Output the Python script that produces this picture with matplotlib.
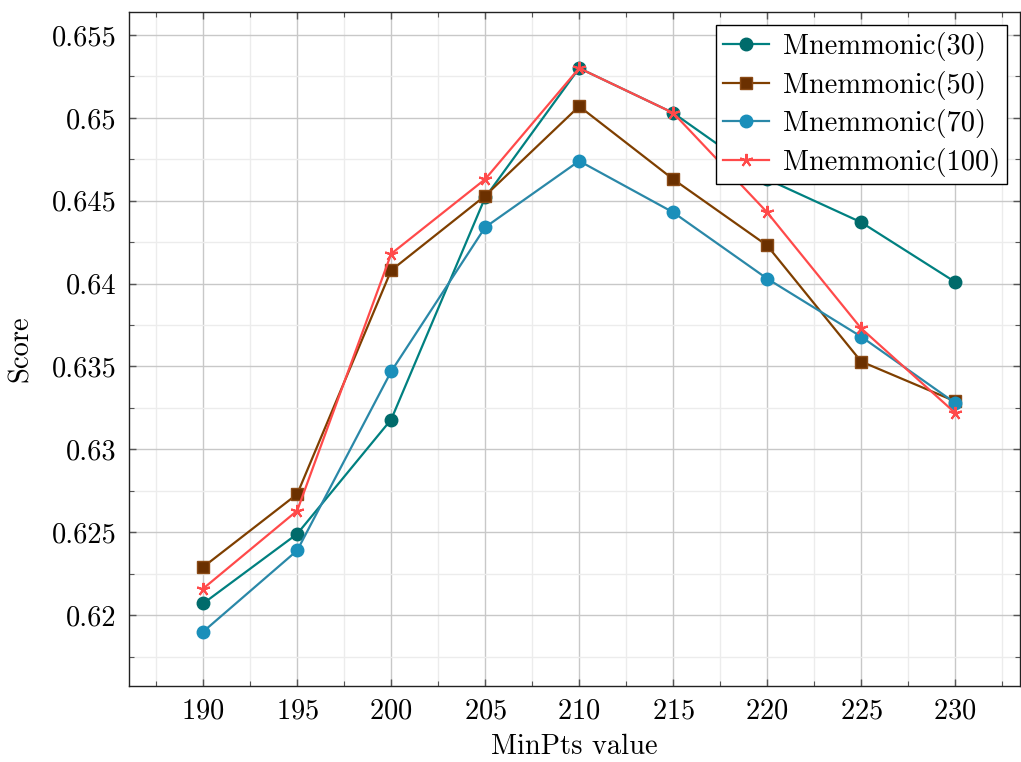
import numpy as np
import matplotlib
matplotlib.use("Agg")
import matplotlib.pyplot as plt
from matplotlib.ticker import MultipleLocator

# minpts values on the x axis
minpts = [190, 195, 200, 205, 210, 215, 220, 225, 230]

# scores
score_30 = [0.6207, 0.6249, 0.6318, 0.6452, 0.6530, 0.6503, 0.6463, 0.6437, 0.6401]
score_50 = [0.6229, 0.6273, 0.6408, 0.6453, 0.6507, 0.6463, 0.6423, 0.6353, 0.6329]
score_70 = [0.6190, 0.6239, 0.6347, 0.6434, 0.6474, 0.6443, 0.6403, 0.6368, 0.6328]
score_100 = [0.6216, 0.6263, 0.6418, 0.6463, 0.6530, 0.6503, 0.6443, 0.6373, 0.6322]

labels = ["Mnemmonic(30)", "Mnemmonic(50)", "Mnemmonic(70)", "Mnemmonic(100)"]

plt.rcParams['font.family'] = ['cmr10', 'DejaVu Serif']
plt.rcParams['axes.formatter.use_mathtext'] = True
plt.rcParams['mathtext.fontset'] = 'cm'

fig = plt.figure(figsize=(10.21, 7.62), dpi=100)
ax = fig.add_axes([0.1263, 0.0997, 0.8727, 0.8846])

ax.plot(minpts, score_30, color='#008080', lw=1.6, marker='o', ms=9,
        mfc='#006b6b', mec='#006b6b', label=labels[0], zorder=3)
ax.plot(minpts, score_50, color='#7f3f00', lw=1.6, marker='s', ms=9,
        mfc='#6b3000', mec='#8a4a15', label=labels[1], zorder=3)
ax.plot(minpts, score_70, color='#2a88a8', lw=1.6, marker='o', ms=9,
        mfc='#1a8fba', mec='#1a8fba', label=labels[2], zorder=3)
ax.plot(minpts, score_100, color='#ff4a4a', lw=1.6, marker=(5, 2, 0), ms=9.5,
        mec='#ff4a4a', mew=1.5, label=labels[3], zorder=3)

ax.set_xlim(186.05, 233.45)
ax.set_ylim(0.61572, 0.65639)
ax.set_xticks(minpts)
ax.set_yticks([0.62, 0.625, 0.63, 0.635, 0.64, 0.645, 0.65, 0.655])
ax.set_yticklabels(['0.62', '0.625', '0.63', '0.635', '0.64', '0.645', '0.65', '0.655'])
ax.xaxis.set_minor_locator(MultipleLocator(2.5))
ax.yaxis.set_minor_locator(MultipleLocator(0.0025))

ax.grid(which='major', color='#c8c8c8', lw=1.0)
ax.grid(which='minor', color='#ececec', lw=1.0)
ax.set_axisbelow(True)

ax.tick_params(which='both', direction='in', top=True, right=True,
               labelsize=20.5, color='#555555', pad=9)
ax.tick_params(which='major', length=5, width=1)
ax.tick_params(which='minor', length=3.5, width=0.8)
for s in ax.spines.values():
    s.set_color('#222222')
    s.set_linewidth(1.0)

ax.set_xlabel('MinPts value', fontsize=20.5, labelpad=6)
ax.set_ylabel('Score', fontsize=20.5, labelpad=13)

leg = ax.legend(loc='upper right', fontsize=20.5, fancybox=False, framealpha=1,
                edgecolor='black', borderaxespad=0.45, handlelength=1.6,
                handletextpad=0.5, labelspacing=0.34, borderpad=0.25)
leg.get_frame().set_linewidth(1.0)

fig.savefig('out.png', dpi=100)
